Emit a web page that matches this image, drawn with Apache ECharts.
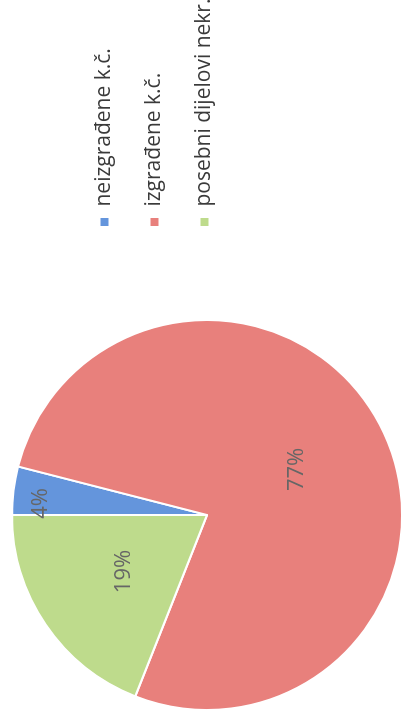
<!DOCTYPE html>
<html>
<head>
<meta charset="utf-8">
<script src="https://cdn.jsdelivr.net/npm/echarts@6/dist/echarts.min.js"></script>
<style>
html,body{margin:0;padding:0;background:#fff;overflow:hidden;}
#wrap{position:absolute;left:0;top:0;width:404px;height:724px;overflow:hidden;}
#main{position:absolute;left:0;top:0;width:724px;height:404px;transform-origin:0 0;transform:translate(0px,724px) rotate(-90deg);}
</style>
</head>
<body>
<div id="wrap"><div id="main"></div></div>
<script>
const categories = ['neizgrađene k.č.', 'izgrađene k.č.', 'posebni dijelovi nekr.'];
const values = [4, 77, 19];
const colors = ['#6495dc', '#e8807c', '#bedb8c'];

const chart = echarts.init(document.getElementById('main'), null, {renderer: 'canvas'});
const data = categories.map((name, i) => {
  const item = {name: name, value: values[i], itemStyle: {color: colors[i]}};
  if (i === 0) item.label = {offset: [-1, -67]};
  return item;
});
chart.setOption({
  animation: false,
  backgroundColor: '#fff',
  legend: {
    orient: 'vertical',
    left: 496,
    top: 94,
    padding: 0,
    itemWidth: 10,
    itemHeight: 10,
    itemGap: 29,
    icon: 'rect',
    formatter: function (name) { return ' ' + name; },
    textStyle: {
      fontFamily: 'Open Sans',
      fontSize: 21,
      lineHeight: 21,
      color: '#3a3a3a'
    },
    data: categories
  },
  series: [{
    type: 'pie',
    center: [209, 207],
    radius: 195,
    startAngle: 90,
    clockwise: true,
    itemStyle: {borderColor: '#fff', borderWidth: 2},
    label: {
      show: true,
      position: 'inside',
      formatter: '{d}%',
      fontFamily: 'Open Sans',
      fontSize: 22,
      color: '#666666'
    },
    labelLine: {show: false},
    data: data
  }]
});
</script>
</body>
</html>
